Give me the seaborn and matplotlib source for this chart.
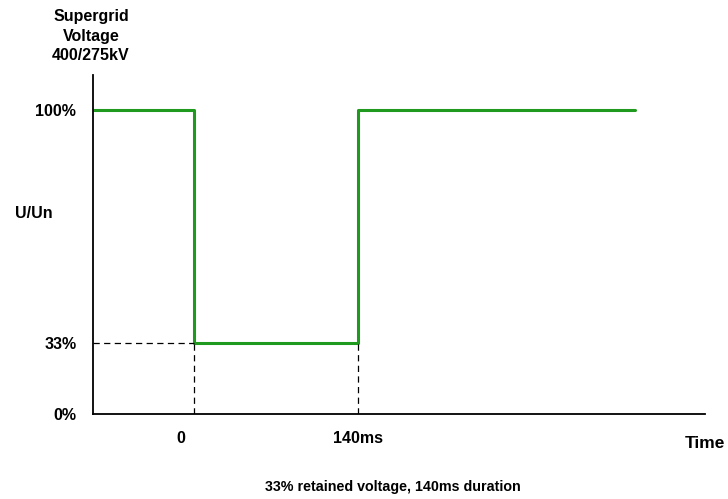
import numpy as np
import matplotlib
matplotlib.use("Agg")
import matplotlib.pyplot as plt
import matplotlib.transforms as mtransforms
import pandas as pd
import seaborn as sns

# step profile of the voltage dip (time in ms, voltage in % of Un)
time_ms = [-86, 0, 0, 140, 140, 376]
voltage_pct = [100, 100, 33, 33, 100, 100]

y_ticks = [0, 33, 100]
y_tick_labels = ["0%", "33%", "100%"]
x_ticks = [0, 140]
x_tick_labels = ["0", "140ms"]

sns.set_theme(style="white")
plt.rcParams["font.family"] = ["Liberation Sans", "DejaVu Sans"]
plt.rcParams["text.color"] = "black"
plt.rcParams["xtick.color"] = "black"
plt.rcParams["ytick.color"] = "black"

# the original sketch is not drawn to scale: 33% sits lower than it should
y_src = [0, 33, 100, 200]
y_dst = [0, 23.4, 100, 200]


def fwd(y):
    return np.interp(y, y_src, y_dst)


def inv(y):
    return np.interp(y, y_dst, y_src)


df = pd.DataFrame({"time": time_ms, "voltage": voltage_pct})

fig = plt.figure(figsize=(7.28, 4.99), dpi=100)
ax = fig.add_axes([0.1277, 0.1703, 0.8407, 0.6794])
ax.set_yscale("function", functions=(fwd, inv))

sns.lineplot(data=df, x="time", y="voltage", ax=ax, sort=False, estimator=None,
             color="#1f9a1f", linewidth=2.2)

# dashed guides at the dip level and the fault times
dash = (0, (5, 3.5))
ax.plot([-86, 0], [33, 33], color="black", linestyle=dash, linewidth=0.9)
ax.plot([0, 0], [0, 33], color="black", linestyle=dash, linewidth=0.9)
ax.plot([140, 140], [0, 33], color="black", linestyle=dash, linewidth=0.9)

ax.set_xlim(-86, 436)
ax.set_ylim(0, 111.5)

ax.set_yticks(y_ticks)
ax.set_yticklabels(y_tick_labels, fontweight="bold", fontsize=11.5)
ax.set_xticks(x_ticks)
ax.set_xticklabels(x_tick_labels, fontweight="bold", fontsize=11.5)
ax.tick_params(axis="both", length=0)
ax.tick_params(axis="y", pad=12)
ax.tick_params(axis="x", pad=12)
ax.yaxis.set_minor_locator(matplotlib.ticker.NullLocator())

# the "0" label sits a little left of its line in the original
lbl0 = ax.get_xticklabels()[0]
lbl0.set_transform(lbl0.get_transform() + mtransforms.ScaledTranslation(-13 / 100, 0, fig.dpi_scale_trans))

ax.set_xlabel("")
ax.set_ylabel("")
for side in ["top", "right"]:
    ax.spines[side].set_visible(False)
for side in ["left", "bottom"]:
    ax.spines[side].set_color("black")
    ax.spines[side].set_linewidth(1.3)

fig.text(91 / 728, 1 - 36 / 499, "Supergrid\nVoltage\n400/275kV", ha="center", va="center",
         fontsize=11.5, fontweight="bold", linespacing=1.38)
fig.text(34 / 728, 1 - 213 / 499, "U/Un", ha="center", va="center", fontsize=11.5, fontweight="bold")
fig.text(705 / 728, 1 - 443 / 499, "Time", ha="center", va="center", fontsize=12.5, fontweight="bold")
fig.text(393 / 728, 1 - 487 / 499, "33% retained voltage, 140ms duration", ha="center", va="center",
         fontsize=10.3, fontweight="bold")

fig.savefig("out.png", dpi=100)
